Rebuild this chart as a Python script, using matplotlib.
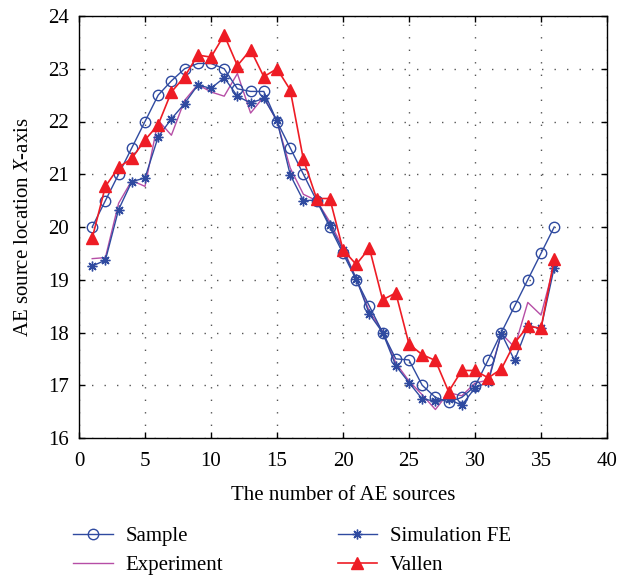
import matplotlib
matplotlib.use("Agg")
import matplotlib.pyplot as plt
import numpy as np

plt.rcParams['font.family'] = ['Liberation Serif', 'DejaVu Serif']
plt.rcParams['mathtext.fontset'] = 'custom'
plt.rcParams['mathtext.it'] = 'Liberation Serif:italic'
plt.rcParams['mathtext.rm'] = 'Liberation Serif'

sources = list(range(1, 37))
sample = [20.0, 20.5, 21.0, 21.5, 22.0, 22.5, 22.77, 23.0, 23.1, 23.1, 23.0, 22.62,
          22.57, 22.57, 22.0, 21.5, 21.0, 20.5, 20.0, 19.5, 19.0, 18.5, 18.0, 17.5,
          17.48, 17.0, 16.77, 16.68, 16.77, 16.98, 17.48, 18.0, 18.5, 19.0, 19.5, 20.0]
experiment = [19.4, 19.42, 20.45, 20.88, 20.77, 22.02, 21.74, 22.4, 22.7, 22.56, 22.48, 22.91,
              22.16, 22.47, 22.0, 21.12, 20.62, 20.5, 20.1, 19.6, 19.02, 18.4, 18.02, 17.42,
              17.08, 16.82, 16.54, 16.86, 16.8, 17.04, 17.1, 17.98, 17.72, 18.57, 18.33, 19.28]
simulation = [19.26, 19.37, 20.33, 20.86, 20.93, 21.71, 22.05, 22.34, 22.69, 22.63, 22.83, 22.48,
              22.35, 22.44, 22.02, 20.99, 20.5, 20.51, 20.04, 19.56, 19.02, 18.35, 18.0, 17.37,
              17.05, 16.74, 16.7, 16.74, 16.62, 16.95, 17.06, 17.98, 17.47, 18.12, 18.08, 19.23]
vallen = [19.79, 20.77, 21.13, 21.3, 21.65, 21.94, 22.56, 22.85, 23.26, 23.22, 23.64, 23.06,
          23.36, 22.85, 23.0, 22.6, 21.28, 20.54, 20.54, 19.57, 19.29, 19.6, 18.62, 18.75,
          17.78, 17.58, 17.47, 16.88, 17.28, 17.28, 17.14, 17.31, 17.8, 18.12, 18.08, 19.39]

blue = '#2f4aa0'
magenta = '#b64ea6'
red = '#ee1c25'

fig = plt.figure(figsize=(6.34, 5.75), dpi=100)
ax = fig.add_axes([79/634, 1-438/575, (607-79)/634, (438-16)/575])

l1, = ax.plot(sources, sample, color=blue, lw=1.0, marker='o', ms=7.5, mfc='none', mec=blue, mew=1.0, label='Sample', zorder=3)
l2, = ax.plot(sources, experiment, color=magenta, lw=1.0, label='Experiment', zorder=2)
l3, = ax.plot(sources, simulation, color=blue, lw=1.0, marker=(8, 2, 0), ms=7, mec=blue, mew=1.0, label='Simulation FE', zorder=4)
l4, = ax.plot(sources, vallen, color=red, lw=1.2, marker='^', ms=9, mfc=red, mec=red, label='Vallen', zorder=5)

ax.set_xlim(0, 40)
ax.set_ylim(16, 24)
ax.set_xticks(np.arange(0, 41, 5))
ax.set_yticks(np.arange(16, 25, 1))
ax.tick_params(direction='in', top=True, right=True, labelsize=15, length=4, width=1)
ax.tick_params(axis='x', pad=10)
ax.tick_params(axis='y', pad=7)
ax.grid(True, linestyle=(0, (1, 8)), color='#555555', linewidth=1.0)
for s in ax.spines.values():
    s.set_linewidth(1.0)

ax.set_xlabel('The number of AE sources', fontsize=15, labelpad=11)
ax.set_ylabel('AE source location $X$-axis', fontsize=15, labelpad=11)

leg = fig.legend(handles=[l1, l2, l3, l4],
           ncol=2, loc='upper left', bbox_to_anchor=(67/634, 1-520/575), frameon=False,
           fontsize=15, numpoints=1, handlelength=1.9, columnspacing=5.5,
           labelspacing=0.45, handletextpad=0.6, borderaxespad=0, borderpad=0.3)

fig.savefig('out.png', dpi=100)
